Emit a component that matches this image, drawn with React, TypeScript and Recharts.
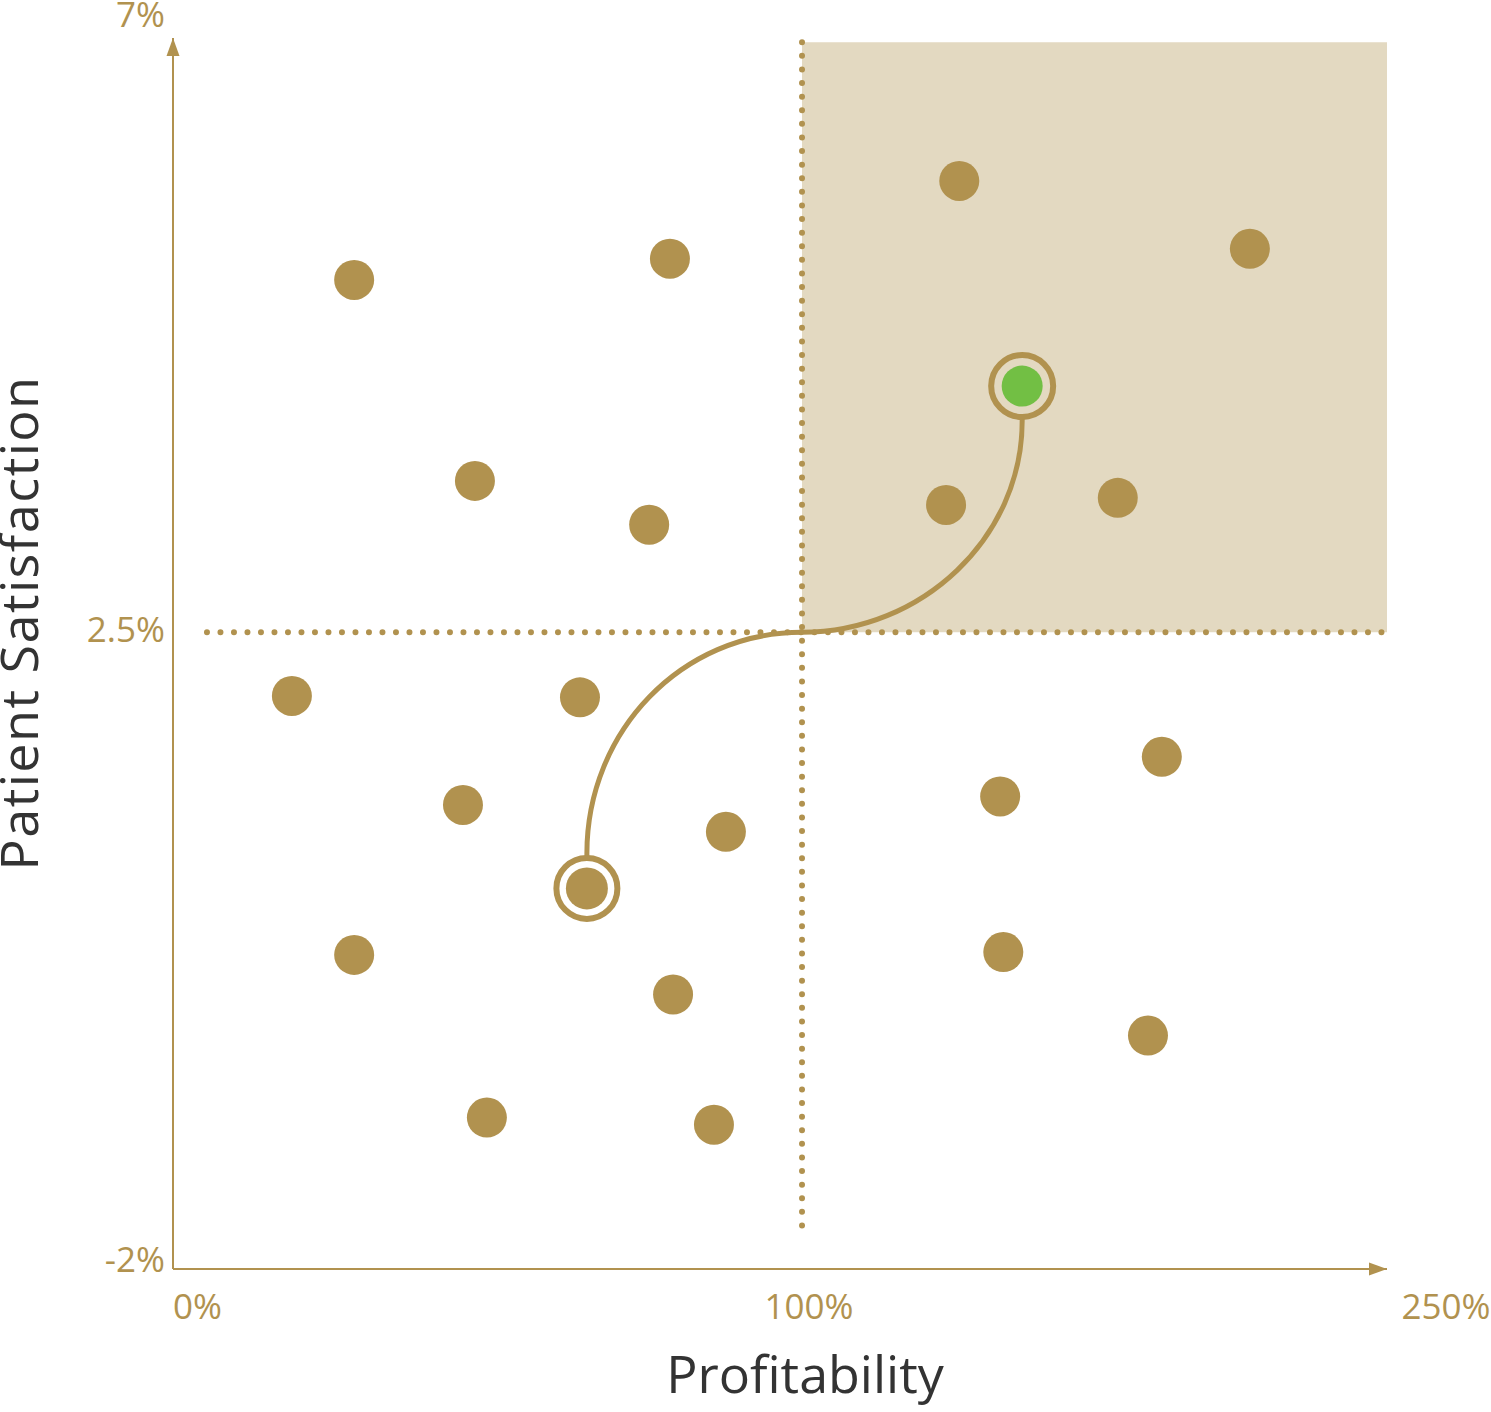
import React from 'react';
import {
  ScatterChart,
  Scatter,
  XAxis,
  YAxis,
  ReferenceArea,
  ReferenceLine,
  ReferenceDot,
} from 'recharts';

// ---------- data ----------
const X_DOMAIN: [number, number] = [0, 193];
const Y_DOMAIN: [number, number] = [-2, 6.7];
const X_TICKS = [0, 100, 193];
const X_TICK_LABELS = ['0%', '100%', '250%'];
const Y_TICKS = [-2, 2.5, 6.7];
const Y_TICK_LABELS = ['-2%', '2.5%', '7%'];

const X_SPLIT = 100; // profitability threshold
const Y_SPLIT = 2.5; // satisfaction threshold
const QUADRANT_TOP = 6.67;
const V_LINE_BOTTOM = -1.72;
const H_LINE_START = 5.4;

const hospitals = [
  { x: 28.8, y: 4.99 },
  { x: 79.0, y: 5.14 },
  { x: 125.0, y: 5.69 },
  { x: 171.2, y: 5.21 },
  { x: 48.0, y: 3.57 },
  { x: 75.7, y: 3.26 },
  { x: 122.9, y: 3.4 },
  { x: 150.2, y: 3.45 },
  { x: 18.9, y: 2.05 },
  { x: 64.7, y: 2.04 },
  { x: 46.1, y: 1.28 },
  { x: 87.9, y: 1.09 },
  { x: 157.2, y: 1.62 },
  { x: 131.5, y: 1.34 },
  { x: 28.8, y: 0.22 },
  { x: 79.5, y: -0.06 },
  { x: 132.0, y: 0.24 },
  { x: 155.0, y: -0.35 },
  { x: 49.9, y: -0.93 },
  { x: 86.0, y: -0.98 },
];
const startPoint = [{ x: 65.8, y: 0.69 }];
const targetPoint = [{ x: 135.0, y: 4.24 }];

// ---------- styles ----------
const GOLD = '#b1924f';
const BEIGE = '#e3d9c1';
const GREEN = '#72bf44';
const TITLE = '#333333';
const FONT = '"Open Sans", "Noto Sans", sans-serif';
const X_TICK_DX = [24.5, 7, 59];
const Y_TICK_DY = [3, 10, -11];

const XTick = (props: any) => {
  const { x, y, index } = props;
  return (
    <text
      x={x + X_TICK_DX[index]}
      y={y + 50}
      textAnchor="middle"
      fill={GOLD}
      fontSize={35}
      fontFamily={FONT}
    >
      {X_TICK_LABELS[index]}
    </text>
  );
};

const YTick = (props: any) => {
  const { x, y, index } = props;
  return (
    <text
      x={x - 8}
      y={y + Y_TICK_DY[index]}
      textAnchor="end"
      fill={GOLD}
      fontSize={35}
      fontFamily={FONT}
    >
      {Y_TICK_LABELS[index]}
    </text>
  );
};

const XTitle = () => (
  <text x={805} y={1393} textAnchor="middle" fill={TITLE} fontSize={52} fontFamily={FONT}>
    Profitability
  </text>
);

const YTitle = () => (
  <text
    x={38}
    y={623}
    transform="rotate(-90, 38, 623)"
    textAnchor="middle"
    fill={TITLE}
    fontSize={52}
    letterSpacing={1.5}
    fontFamily={FONT}
  >
    Patient Satisfaction
  </text>
);

const LowerCurve = (props: any) => {
  const { x, y, width: w, height: h } = props;
  const d = `M${x},${y + h} L${x},${y + h * 0.863} C${x},${y + h * 0.387} ${x + w * 0.44},${y} ${x + w},${y}`;
  return <path d={d} fill="none" stroke={GOLD} strokeWidth={5} />;
};

const UpperCurve = (props: any) => {
  const { x, y, width: w, height: h } = props;
  const d = `M${x},${y + h} C${x + w * 0.545},${y + h} ${x + w},${y + h * 0.615} ${x + w},${y + h * 0.142} L${x + w},${y}`;
  return <path d={d} fill="none" stroke={GOLD} strokeWidth={5} />;
};

const RightArrow = (props: any) => {
  const { cx, cy } = props;
  return <polygon points={`${cx},${cy} ${cx - 18},${cy - 6.5} ${cx - 18},${cy + 6.5}`} fill={GOLD} />;
};

const UpArrow = (props: any) => {
  const { cx, cy } = props;
  return <polygon points={`${cx},${cy} ${cx - 6.5},${cy + 18} ${cx + 6.5},${cy + 18}`} fill={GOLD} />;
};

const Dot = (props: any) => <circle cx={props.cx} cy={props.cy} r={20} fill={GOLD} />;

const StartDot = (props: any) => (
  <g>
    <circle cx={props.cx} cy={props.cy} r={30.5} fill="#ffffff" stroke={GOLD} strokeWidth={6} />
    <circle cx={props.cx} cy={props.cy} r={21} fill={GOLD} />
  </g>
);

const TargetDot = (props: any) => (
  <g>
    <circle cx={props.cx} cy={props.cy} r={31} fill={BEIGE} stroke={GOLD} strokeWidth={6} />
    <circle cx={props.cx} cy={props.cy} r={20.5} fill={GREEN} />
  </g>
);

export default function App() {
  return (
    <div style={{ position: 'absolute', left: 0, top: 0, background: '#ffffff', fontFamily: FONT }}>
      <ScatterChart
        width={1491}
        height={1412}
        margin={{ top: 38, right: 104, bottom: 103, left: 113 }}
      >
        <XAxis
          type="number"
          dataKey="x"
          domain={X_DOMAIN}
          ticks={X_TICKS}
          allowDataOverflow
          height={40}
          tickSize={0}
          tickMargin={0}
          tickLine={false}
          axisLine={{ stroke: GOLD, strokeWidth: 2 }}
          tick={<XTick />}
          label={<XTitle />}
        />
        <YAxis
          type="number"
          dataKey="y"
          domain={Y_DOMAIN}
          ticks={Y_TICKS}
          allowDataOverflow
          width={60}
          tickSize={0}
          tickMargin={0}
          tickLine={false}
          axisLine={{ stroke: GOLD, strokeWidth: 2 }}
          tick={<YTick />}
          label={<YTitle />}
        />
        <ReferenceArea
          x1={X_SPLIT}
          x2={X_DOMAIN[1]}
          y1={Y_SPLIT}
          y2={QUADRANT_TOP}
          fill={BEIGE}
          fillOpacity={1}
          stroke="none"
        />
        <ReferenceLine
          segment={[
            { x: X_SPLIT, y: QUADRANT_TOP },
            { x: X_SPLIT, y: V_LINE_BOTTOM },
          ]}
          stroke={GOLD}
          strokeWidth={6}
          strokeDasharray="0 13.6"
          strokeLinecap="round"
        />
        <ReferenceLine
          segment={[
            { x: H_LINE_START, y: Y_SPLIT },
            { x: X_DOMAIN[1], y: Y_SPLIT },
          ]}
          stroke={GOLD}
          strokeWidth={6}
          strokeDasharray="0 13.5"
          strokeLinecap="round"
        />
        <ReferenceArea
          x1={startPoint[0].x}
          x2={X_SPLIT}
          y1={startPoint[0].y}
          y2={Y_SPLIT}
          shape={<LowerCurve />}
        />
        <ReferenceArea
          x1={X_SPLIT}
          x2={targetPoint[0].x}
          y1={Y_SPLIT}
          y2={targetPoint[0].y}
          shape={<UpperCurve />}
        />
        <ReferenceDot x={X_DOMAIN[1]} y={Y_DOMAIN[0]} r={0} shape={<RightArrow />} />
        <ReferenceDot x={X_DOMAIN[0]} y={Y_DOMAIN[1]} r={0} shape={<UpArrow />} />
        <Scatter data={hospitals} shape={<Dot />} isAnimationActive={false} />
        <Scatter data={startPoint} shape={<StartDot />} isAnimationActive={false} />
        <Scatter data={targetPoint} shape={<TargetDot />} isAnimationActive={false} />
      </ScatterChart>
    </div>
  );
}
